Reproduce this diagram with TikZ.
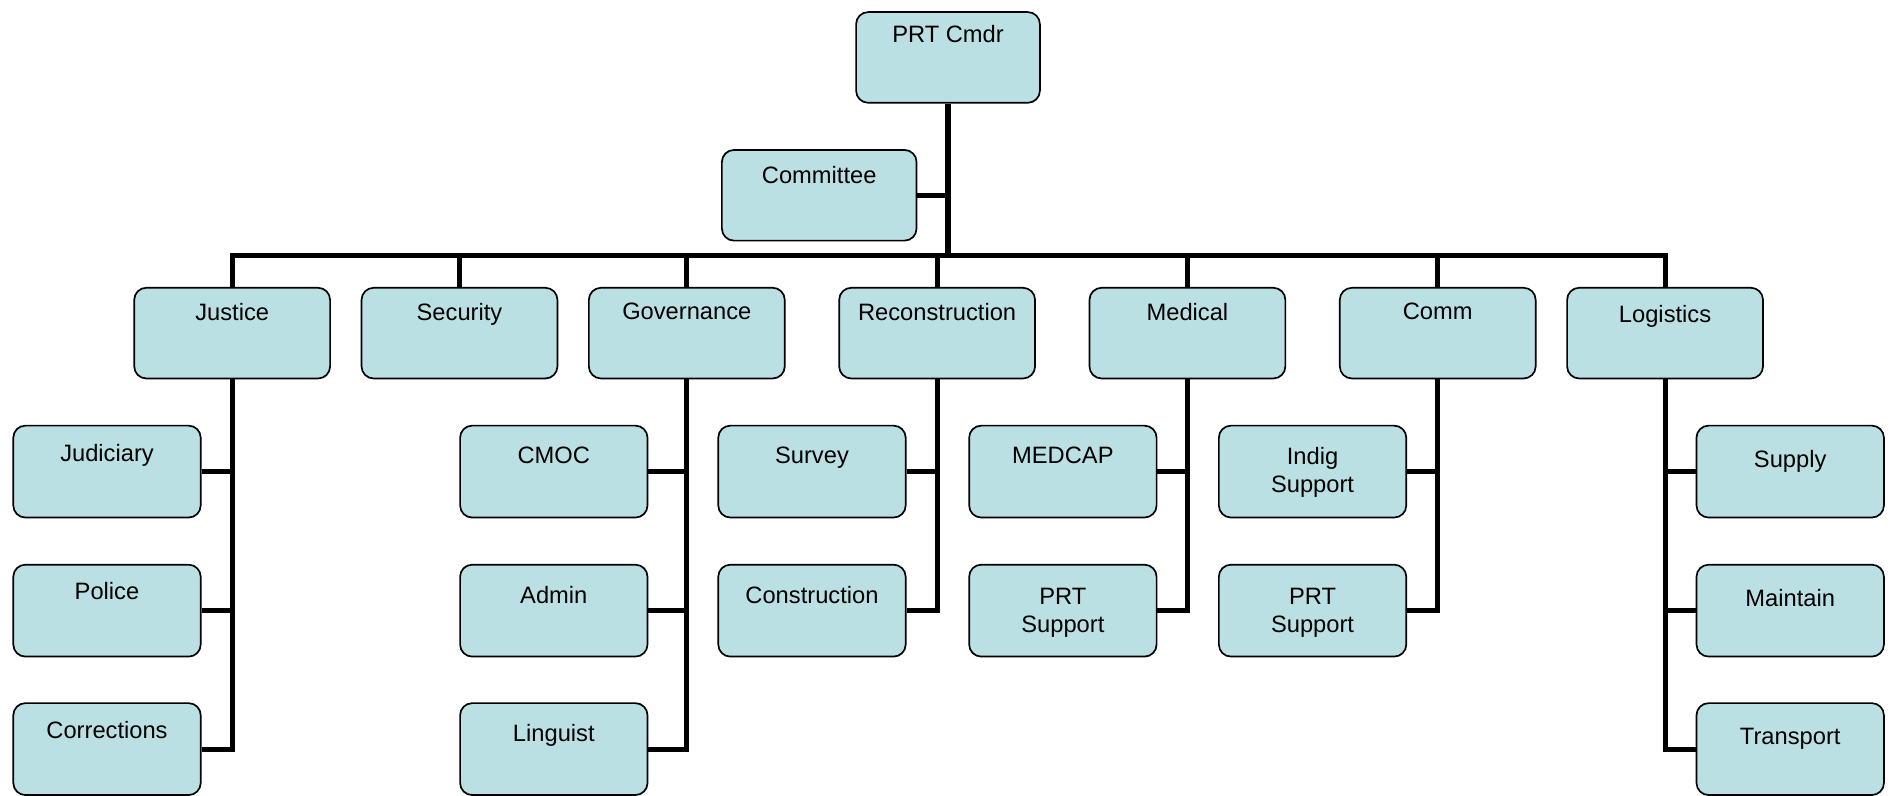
\documentclass[tikz,border=0pt]{standalone}
\usepackage{fontspec}
\setmainfont{Liberation Sans}
\definecolor{boxfill}{RGB}{187,224,227}
\begin{document}
\begin{tikzpicture}[x=0.5pt,y=-0.5pt,
  box/.style={draw=black, line width=0.7pt, fill=boxfill, rounded corners=5pt,
    minimum width=81pt, minimum height=37.5pt, inner sep=0pt},
  cbox/.style={box, minimum width=77.5pt, minimum height=38pt},
  lab/.style={anchor=north, inner sep=0pt, font=\fontsize{9.8}{11.5}\selectfont, align=center},
  conn/.style={line width=2.1pt}]
\useasboundingbox (0,0) rectangle (1568,658);
% top
\node[box, minimum width=76pt, label={[lab,yshift=-5.5pt]north:PRT Cmdr}] (cmdr) at (784,47.5) {};
\node[box, minimum width=80.5pt, label={[lab,yshift=-7pt]north:Committee}] (committee) at (677.5,161.5) {};
% second row
\node[box, label={[lab,yshift=-6.5pt]north:Justice}] (justice) at (192,275.5) {};
\node[box, label={[lab,yshift=-6.5pt]north:Security}] (security) at (380,275.5) {};
\node[box, label={[lab,yshift=-6.5pt]north:Governance}] (governance) at (568,275.5) {};
\node[box, label={[lab,yshift=-6.5pt]north:Reconstruction}] (recon) at (775,275.5) {};
\node[box, label={[lab,yshift=-6.5pt]north:Medical}] (medical) at (982,275.5) {};
\node[box, label={[lab,yshift=-6.5pt]north:Comm}] (comm) at (1189,275.5) {};
\node[box, label={[lab,yshift=-7.5pt]north:Logistics}] (logistics) at (1377,275.5) {};
% justice children
\node[cbox, label={[lab,yshift=-8pt]north:Judiciary}] (judiciary) at (88.5,390) {};
\node[cbox, label={[lab,yshift=-7.5pt]north:Police}] (police) at (88.5,505) {};
\node[cbox, label={[lab,yshift=-7.5pt]north:Corrections}] (corrections) at (88.5,619.5) {};
% governance children
\node[cbox, label={[lab,yshift=-9pt]north:CMOC}] (cmoc) at (458,390) {};
\node[cbox, label={[lab,yshift=-9pt]north:Admin}] (admin) at (458,505) {};
\node[cbox, label={[lab,yshift=-9pt]north:Linguist}] (linguist) at (458,619.5) {};
% reconstruction children
\node[cbox, label={[lab,yshift=-9pt]north:Survey}] (survey) at (671.5,390) {};
\node[cbox, label={[lab,yshift=-9pt]north:Construction}] (construction) at (671.5,505) {};
% medical children
\node[cbox, label={[lab,yshift=-9pt]north:MEDCAP}] (medcap) at (879,390) {};
\node[cbox, label={[lab,yshift=-10pt]north:{PRT\\Support}}] (medprt) at (879,505) {};
% comm children
\node[cbox, label={[lab,yshift=-9pt]north:{Indig\\Support}}] (indig) at (1085.5,390) {};
\node[cbox, label={[lab,yshift=-10pt]north:{PRT\\Support}}] (commprt) at (1085.5,505) {};
% logistics children
\node[cbox, label={[lab,yshift=-10.5pt]north:Supply}] (supply) at (1480.5,390) {};
\node[cbox, label={[lab,yshift=-10.5pt]north:Maintain}] (maintain) at (1480.5,505) {};
\node[cbox, label={[lab,yshift=-10.5pt]north:Transport}] (transport) at (1480.5,619.5) {};
% connectors
\coordinate (bus) at (784,211);
\draw[conn] (cmdr.south) -- (cmdr.south |- bus);
\draw[conn] (committee.east) -- (committee.east -| cmdr.south);
\draw[conn] (justice.north) -- (justice.north |- bus) -- (logistics.north |- bus) -- (logistics.north);
\foreach \n in {security,governance,recon,medical,comm}
  \draw[conn] (\n.north) -- (\n.north |- bus);
\draw[conn] (justice.south) |- (corrections.east);
\draw[conn] (judiciary.east) -- (judiciary.east -| justice.south);
\draw[conn] (police.east) -- (police.east -| justice.south);
\draw[conn] (governance.south) |- (linguist.east);
\draw[conn] (cmoc.east) -- (cmoc.east -| governance.south);
\draw[conn] (admin.east) -- (admin.east -| governance.south);
\draw[conn] (recon.south) |- (construction.east);
\draw[conn] (survey.east) -- (survey.east -| recon.south);
\draw[conn] (medical.south) |- (medprt.east);
\draw[conn] (medcap.east) -- (medcap.east -| medical.south);
\draw[conn] (comm.south) |- (commprt.east);
\draw[conn] (indig.east) -- (indig.east -| comm.south);
\draw[conn] (logistics.south) |- (transport.west);
\draw[conn] (supply.west) -- (supply.west -| logistics.south);
\draw[conn] (maintain.west) -- (maintain.west -| logistics.south);
\end{tikzpicture}
\end{document}
